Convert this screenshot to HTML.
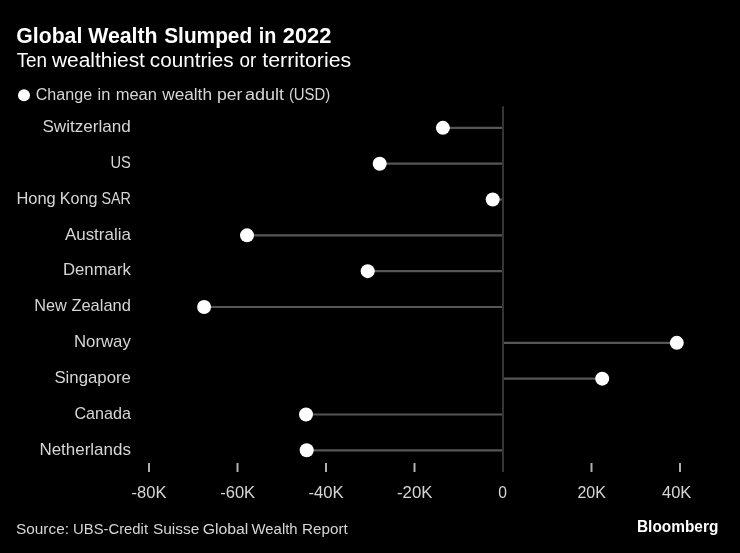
<!DOCTYPE html>
<html lang="en">
<head>
<meta charset="utf-8">
<title>Global Wealth Slumped in 2022</title>
<style>
html,body{margin:0;padding:0;background:#000;}
body{width:740px;height:553px;overflow:hidden;}
svg{display:block;}
text{font-family:"Liberation Sans",sans-serif;}
</style>
</head>
<body>
<svg width="740" height="553" viewBox="0 0 740 553">
<rect x="0" y="0" width="740" height="553" fill="#000"/>
<text x="16.3" y="43.0" font-size="21.2" font-weight="bold" fill="#fff" textLength="66.0" lengthAdjust="spacingAndGlyphs">Global</text>
<text x="88.2" y="43.0" font-size="21.2" font-weight="bold" fill="#fff" textLength="69.4" lengthAdjust="spacingAndGlyphs">Wealth</text>
<text x="164.2" y="43.0" font-size="21.2" font-weight="bold" fill="#fff" textLength="88.0" lengthAdjust="spacingAndGlyphs">Slumped</text>
<text x="258.7" y="43.0" font-size="21.2" font-weight="bold" fill="#fff" textLength="17.6" lengthAdjust="spacingAndGlyphs">in</text>
<text x="282.8" y="43.0" font-size="21.2" font-weight="bold" fill="#fff" textLength="48.6" lengthAdjust="spacingAndGlyphs">2022</text>
<text x="16.7" y="66.8" font-size="20" fill="#fff" textLength="30.4" lengthAdjust="spacingAndGlyphs">Ten</text>
<text x="52.0" y="66.8" font-size="20" fill="#fff" textLength="92.9" lengthAdjust="spacingAndGlyphs">wealthiest</text>
<text x="149.8" y="66.8" font-size="20" fill="#fff" textLength="83.9" lengthAdjust="spacingAndGlyphs">countries</text>
<text x="239.6" y="66.8" font-size="20" fill="#fff" textLength="16.8" lengthAdjust="spacingAndGlyphs">or</text>
<text x="262.3" y="66.8" font-size="20" fill="#fff" textLength="88.9" lengthAdjust="spacingAndGlyphs">territories</text>
<circle cx="24" cy="95.2" r="6" fill="#fff"/>
<text x="35.7" y="100.4" font-size="16.0" fill="#d6d6d6" textLength="56.4" lengthAdjust="spacingAndGlyphs">Change</text>
<text x="97.5" y="100.4" font-size="16.0" fill="#d6d6d6" textLength="12.8" lengthAdjust="spacingAndGlyphs">in</text>
<text x="115.7" y="100.4" font-size="16.0" fill="#d6d6d6" textLength="41.3" lengthAdjust="spacingAndGlyphs">mean</text>
<text x="162.2" y="100.4" font-size="16.0" fill="#d6d6d6" textLength="49.8" lengthAdjust="spacingAndGlyphs">wealth</text>
<text x="216.9" y="100.4" font-size="16.0" fill="#d6d6d6" textLength="25.5" lengthAdjust="spacingAndGlyphs">per</text>
<text x="244.9" y="100.4" font-size="16.0" fill="#d6d6d6" textLength="39.1" lengthAdjust="spacingAndGlyphs">adult</text>
<text x="288.9" y="100.4" font-size="16.0" fill="#d6d6d6" textLength="41.4" lengthAdjust="spacingAndGlyphs">(USD)</text>
<line x1="442.9" y1="127.85" x2="503.0" y2="127.85" stroke="#565656" stroke-width="2.2"/>
<line x1="379.7" y1="163.68" x2="503.0" y2="163.68" stroke="#565656" stroke-width="2.2"/>
<line x1="492.7" y1="199.51" x2="503.0" y2="199.51" stroke="#565656" stroke-width="2.2"/>
<line x1="247.0" y1="235.34" x2="503.0" y2="235.34" stroke="#565656" stroke-width="2.2"/>
<line x1="367.7" y1="271.17" x2="503.0" y2="271.17" stroke="#565656" stroke-width="2.2"/>
<line x1="204.1" y1="307.00" x2="503.0" y2="307.00" stroke="#565656" stroke-width="2.2"/>
<line x1="503.0" y1="342.83" x2="676.8" y2="342.83" stroke="#565656" stroke-width="2.2"/>
<line x1="503.0" y1="378.66" x2="602.2" y2="378.66" stroke="#565656" stroke-width="2.2"/>
<line x1="306.0" y1="414.49" x2="503.0" y2="414.49" stroke="#565656" stroke-width="2.2"/>
<line x1="306.7" y1="450.32" x2="503.0" y2="450.32" stroke="#565656" stroke-width="2.2"/>
<line x1="503.0" y1="106.3" x2="503.0" y2="472" stroke="#353535" stroke-width="2"/>
<circle cx="442.9" cy="127.85" r="7" fill="#fff"/>
<text x="42.4" y="132.15" font-size="15.7" fill="#d6d6d6" textLength="88.5" lengthAdjust="spacingAndGlyphs">Switzerland</text>
<circle cx="379.7" cy="163.68" r="7" fill="#fff"/>
<text x="110.5" y="167.98" font-size="15.7" fill="#d6d6d6" textLength="20.4" lengthAdjust="spacingAndGlyphs">US</text>
<circle cx="492.7" cy="199.51" r="7" fill="#fff"/>
<text x="16.4" y="203.81" font-size="15.7" fill="#d6d6d6" textLength="39.3" lengthAdjust="spacingAndGlyphs">Hong</text>
<text x="59.8" y="203.81" font-size="15.7" fill="#d6d6d6" textLength="37.7" lengthAdjust="spacingAndGlyphs">Kong</text>
<text x="101.4" y="203.81" font-size="15.7" fill="#d6d6d6" textLength="29.5" lengthAdjust="spacingAndGlyphs">SAR</text>
<circle cx="247.0" cy="235.34" r="7" fill="#fff"/>
<text x="64.9" y="239.64" font-size="15.7" fill="#d6d6d6" textLength="66.0" lengthAdjust="spacingAndGlyphs">Australia</text>
<circle cx="367.7" cy="271.17" r="7" fill="#fff"/>
<text x="62.9" y="275.47" font-size="15.7" fill="#d6d6d6" textLength="68.0" lengthAdjust="spacingAndGlyphs">Denmark</text>
<circle cx="204.1" cy="307.00" r="7" fill="#fff"/>
<text x="34.3" y="311.30" font-size="15.7" fill="#d6d6d6" textLength="32.6" lengthAdjust="spacingAndGlyphs">New</text>
<text x="71.4" y="311.30" font-size="15.7" fill="#d6d6d6" textLength="59.5" lengthAdjust="spacingAndGlyphs">Zealand</text>
<circle cx="676.8" cy="342.83" r="7" fill="#fff"/>
<text x="73.9" y="347.13" font-size="15.7" fill="#d6d6d6" textLength="57.0" lengthAdjust="spacingAndGlyphs">Norway</text>
<circle cx="602.2" cy="378.66" r="7" fill="#fff"/>
<text x="54.4" y="382.96" font-size="15.7" fill="#d6d6d6" textLength="76.5" lengthAdjust="spacingAndGlyphs">Singapore</text>
<circle cx="306.0" cy="414.49" r="7" fill="#fff"/>
<text x="74.4" y="418.79" font-size="15.7" fill="#d6d6d6" textLength="56.5" lengthAdjust="spacingAndGlyphs">Canada</text>
<circle cx="306.7" cy="450.32" r="7" fill="#fff"/>
<text x="39.4" y="454.62" font-size="15.7" fill="#d6d6d6" textLength="91.5" lengthAdjust="spacingAndGlyphs">Netherlands</text>
<line x1="149.0" y1="463" x2="149.0" y2="472" stroke="#b0b0b0" stroke-width="2"/>
<text x="131.5" y="498.1" font-size="15.7" fill="#d6d6d6" textLength="34.9" lengthAdjust="spacingAndGlyphs">-80K</text>
<line x1="237.5" y1="463" x2="237.5" y2="472" stroke="#b0b0b0" stroke-width="2"/>
<text x="220.2" y="498.1" font-size="15.7" fill="#d6d6d6" textLength="34.9" lengthAdjust="spacingAndGlyphs">-60K</text>
<line x1="326.0" y1="463" x2="326.0" y2="472" stroke="#b0b0b0" stroke-width="2"/>
<text x="308.4" y="498.1" font-size="15.7" fill="#d6d6d6" textLength="35.3" lengthAdjust="spacingAndGlyphs">-40K</text>
<line x1="414.5" y1="463" x2="414.5" y2="472" stroke="#b0b0b0" stroke-width="2"/>
<text x="397.0" y="498.1" font-size="15.7" fill="#d6d6d6" textLength="35.4" lengthAdjust="spacingAndGlyphs">-20K</text>
<text x="498.2" y="498.1" font-size="15.7" fill="#d6d6d6" textLength="8.7" lengthAdjust="spacingAndGlyphs">0</text>
<line x1="591.5" y1="463" x2="591.5" y2="472" stroke="#b0b0b0" stroke-width="2"/>
<text x="577.4" y="498.1" font-size="15.7" fill="#d6d6d6" textLength="28.4" lengthAdjust="spacingAndGlyphs">20K</text>
<line x1="680.0" y1="463" x2="680.0" y2="472" stroke="#b0b0b0" stroke-width="2"/>
<text x="662.0" y="498.1" font-size="15.7" fill="#d6d6d6" textLength="29.4" lengthAdjust="spacingAndGlyphs">40K</text>
<text x="16.0" y="534.4" font-size="14.9" fill="#d6d6d6" textLength="53.0" lengthAdjust="spacingAndGlyphs">Source:</text>
<text x="73.1" y="534.4" font-size="14.9" fill="#d6d6d6" textLength="74.9" lengthAdjust="spacingAndGlyphs">UBS-Credit</text>
<text x="152.9" y="534.4" font-size="14.9" fill="#d6d6d6" textLength="46.4" lengthAdjust="spacingAndGlyphs">Suisse</text>
<text x="202.7" y="534.4" font-size="14.9" fill="#d6d6d6" textLength="45.7" lengthAdjust="spacingAndGlyphs">Global</text>
<text x="251.6" y="534.4" font-size="14.9" fill="#d6d6d6" textLength="46.0" lengthAdjust="spacingAndGlyphs">Wealth</text>
<text x="302.0" y="534.4" font-size="14.9" fill="#d6d6d6" textLength="45.7" lengthAdjust="spacingAndGlyphs">Report</text>
<text x="637.0" y="532.3" font-size="15.6" font-weight="bold" fill="#fff" textLength="81.3" lengthAdjust="spacingAndGlyphs">Bloomberg</text>
</svg>
</body>
</html>
